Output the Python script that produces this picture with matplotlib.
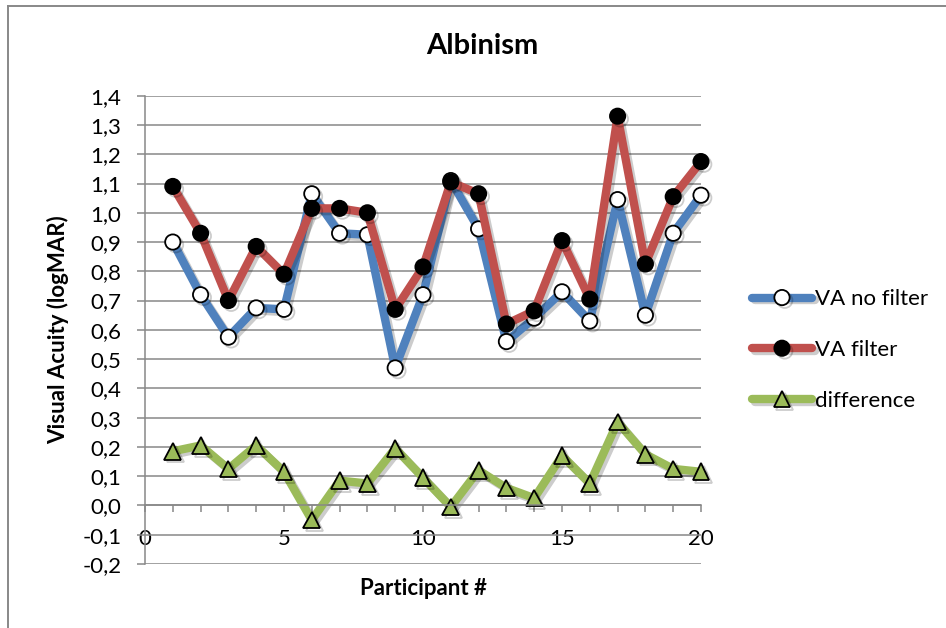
import matplotlib
matplotlib.use("Agg")
import matplotlib.pyplot as plt
import matplotlib.patheffects as pe
from matplotlib.lines import Line2D

plt.rcParams['font.family'] = ['Lato', 'DejaVu Sans']

participants = list(range(1, 21))
va_no_filter = [0.90, 0.72, 0.575, 0.675, 0.67, 1.065, 0.93, 0.925, 0.47, 0.72,
                1.11, 0.945, 0.56, 0.64, 0.73, 0.63, 1.045, 0.65, 0.93, 1.06]
va_filter = [1.09, 0.93, 0.70, 0.885, 0.79, 1.015, 1.015, 1.00, 0.67, 0.815,
             1.105, 1.065, 0.62, 0.665, 0.905, 0.705, 1.33, 0.825, 1.055, 1.175]
difference = [0.185, 0.205, 0.125, 0.205, 0.115, -0.05, 0.085, 0.075, 0.195, 0.095,
              -0.005, 0.12, 0.06, 0.025, 0.17, 0.075, 0.285, 0.175, 0.125, 0.115]
y_ticks = [-0.2, -0.1, 0.0, 0.1, 0.2, 0.3, 0.4, 0.5, 0.6, 0.7, 0.8, 0.9, 1.0,
           1.1, 1.2, 1.3, 1.4]

grid_col = '#888888'
shadow = [pe.SimpleLineShadow(offset=(2, -2), alpha=0.2, shadow_color='k'), pe.Normal()]
line_kw = dict(lw=6, solid_capstyle='round', solid_joinstyle='round',
               mec='black', mew=1.3, clip_on=False, path_effects=shadow)

fig = plt.figure(figsize=(9.46, 6.28), dpi=100)
ax = fig.add_axes([145 / 946, 1 - 564 / 628, (701 - 145) / 946, (564 - 95.7) / 628])

ax.plot(participants, va_no_filter, color='#4F81BD', marker='o', ms=11,
        mfc='white', label='VA no filter', **line_kw)
ax.plot(participants, va_filter, color='#C0504D', marker='o', ms=11,
        mfc='black', label='VA filter', **line_kw)
ax.plot(participants, difference, color='#9BBB59', marker='^', ms=12,
        mfc='#9BBB59', label='difference', **line_kw)

ax.set_xlim(0, 20)
ax.set_ylim(-0.2, 1.4)
ax.set_yticks(y_ticks)
ax.set_yticklabels([f'{v:.1f}'.replace('.', ',') for v in y_ticks])
ax.set_xticks(range(0, 21))
ax.set_xticklabels([str(i) if i % 5 == 0 else '' for i in range(0, 21)])

ax.grid(axis='y', color=grid_col, lw=1.1)
ax.set_axisbelow(True)
for s in ['top', 'right']:
    ax.spines[s].set_visible(False)
ax.spines['bottom'].set_position(('data', 0))
ax.spines['bottom'].set_color(grid_col)
ax.spines['left'].set_color(grid_col)
ax.spines['bottom'].set_linewidth(1.1)
ax.spines['left'].set_linewidth(1.1)
ax.tick_params(axis='y', length=6, width=1.1, color=grid_col, pad=11, labelsize=16)
ax.tick_params(axis='x', length=5, width=1.1, color=grid_col, pad=12, labelsize=16)

ax.set_title('Albinism', fontsize=21, fontweight='bold', x=(482.5 - 145) / 556, y=1.0, pad=30)
ax.set_ylabel('Visual Acuity (logMAR)', fontsize=16, fontweight='bold')
ax.yaxis.set_label_coords((69 - 145) / 556, 0.5)
ax.set_xlabel('Participant #', fontsize=16, fontweight='bold', labelpad=21)

ax.legend(loc='center left', bbox_to_anchor=(752 / 946, 1 - 350 / 628),
          bbox_transform=fig.transFigure, frameon=False, fontsize=16,
          handlelength=2.7, handletextpad=0.12, labelspacing=1.38,
          borderpad=0, borderaxespad=0)

# chart area border (left and top visible)
fig.add_artist(Line2D([8 / 946, 8 / 946], [0, 1 - 6 / 628], transform=fig.transFigure,
                      color=grid_col, lw=1.4))
fig.add_artist(Line2D([8 / 946, 1], [1 - 6 / 628, 1 - 6 / 628], transform=fig.transFigure,
                      color=grid_col, lw=1.4))

fig.savefig('out.png', dpi=100)
